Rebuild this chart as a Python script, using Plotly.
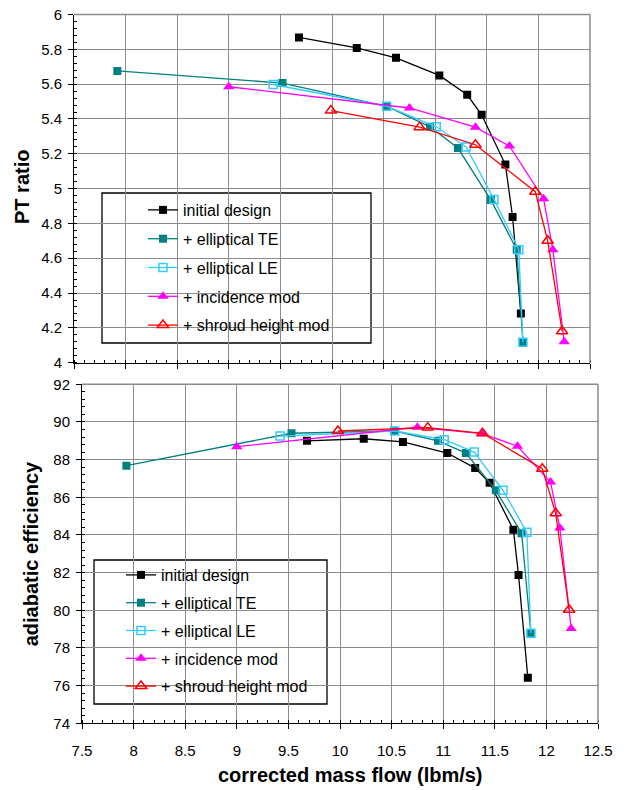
import plotly.graph_objects as go

# page body has an 8px margin, so the figure is sized to fit inside the window
OFF = 8
W, H = 626 - OFF, 790 - OFF

# ---------------- data ----------------
series_names = ["initial design", "+ elliptical TE", "+ elliptical LE",
                "+ incidence mod", "+ shroud height mod"]

# PT ratio (top)
init_flow_pt = [9.68, 10.24, 10.62, 11.04, 11.31, 11.45, 11.68, 11.75, 11.83]
init_pt = [5.868, 5.808, 5.751, 5.650, 5.539, 5.424, 5.138, 4.837, 4.282]

te_flow_pt = [7.92, 9.52, 10.53, 10.95, 11.22, 11.54, 11.79, 11.85]
te_pt = [5.676, 5.606, 5.473, 5.355, 5.233, 4.934, 4.649, 4.118]

le_flow_pt = [9.43, 10.53, 11.01, 11.30, 11.57, 11.81, 11.85]
le_pt = [5.598, 5.473, 5.355, 5.239, 4.938, 4.649, 4.118]

inc_flow_pt = [9.00, 10.75, 11.39, 11.72, 12.05, 12.14, 12.25]
inc_pt = [5.585, 5.463, 5.353, 5.244, 4.942, 4.649, 4.120]

shr_flow_pt = [9.99, 10.85, 11.39, 11.97, 12.09, 12.23]
shr_pt = [5.448, 5.353, 5.252, 4.982, 4.700, 4.181]

# adiabatic efficiency (bottom)
init_flow_eff = [9.68, 10.23, 10.61, 11.04, 11.31, 11.45, 11.68, 11.73, 11.82]
init_eff = [89.00, 89.11, 88.94, 88.35, 87.55, 86.77, 84.28, 81.87, 76.42]

te_flow_eff = [7.93, 9.53, 10.53, 10.95, 11.22, 11.51, 11.76, 11.85]
te_eff = [87.68, 89.40, 89.52, 89.00, 88.35, 86.37, 84.09, 78.78]

le_flow_eff = [9.42, 10.53, 11.01, 11.30, 11.58, 11.81, 11.85]
le_eff = [89.25, 89.52, 89.06, 88.40, 86.37, 84.14, 78.78]

inc_flow_eff = [9.00, 10.75, 11.38, 11.72, 12.04, 12.13, 12.24]
inc_eff = [88.69, 89.72, 89.38, 88.71, 86.81, 84.37, 79.04]

shr_flow_eff = [9.98, 10.85, 11.38, 11.96, 12.09, 12.22]
shr_eff = [89.52, 89.70, 89.40, 87.52, 85.15, 80.03]

# ---------------- styles ----------------
colors = ["#000000", "#008080", "#33CCFF", "#FF00FF", "#FF0000"]
symbols = ["square", "square", "square-open", "triangle-up", "triangle-up-open"]
sizes = [8, 8, 8, 10, 10]

FONT = "Arial, 'Liberation Sans', sans-serif"
GRID = "#8c8c8c"

top_sets = [(init_flow_pt, init_pt), (te_flow_pt, te_pt), (le_flow_pt, le_pt),
            (inc_flow_pt, inc_pt), (shr_flow_pt, shr_pt)]
bot_sets = [(init_flow_eff, init_eff), (te_flow_eff, te_eff), (le_flow_eff, le_eff),
            (inc_flow_eff, inc_eff), (shr_flow_eff, shr_eff)]

fig = go.Figure()
for i, (xs, ys) in enumerate(top_sets):
    fig.add_trace(go.Scatter(
        x=xs, y=ys, mode="lines+markers", name=series_names[i],
        xaxis="x", yaxis="y", legend="legend", legendgroup="t%d" % i,
        line=dict(color=colors[i], width=1.3),
        marker=dict(symbol=symbols[i], size=sizes[i], color=colors[i],
                    line=dict(color=colors[i], width=1.5 if "open" in symbols[i] else 0)),
    ))
for i, (xs, ys) in enumerate(bot_sets):
    fig.add_trace(go.Scatter(
        x=xs, y=ys, mode="lines+markers", name=series_names[i],
        xaxis="x2", yaxis="y2", legend="legend2", legendgroup="b%d" % i,
        line=dict(color=colors[i], width=1.3),
        marker=dict(symbol=symbols[i], size=sizes[i], color=colors[i],
                    line=dict(color=colors[i], width=1.5 if "open" in symbols[i] else 0)),
    ))

def px(x):
    return (x - OFF) / W

def py(y):
    return 1 - (y - OFF) / H

# plot areas in window pixels
T_L, T_R, T_T, T_B = 74, 590, 14.5, 362.7
B_L, B_R, B_T, B_B = 82, 598, 384.3, 723.3

axis_common = dict(
    showline=True, linecolor="black", linewidth=1,
    showgrid=True, gridcolor=GRID, gridwidth=1,
    ticks="outside", ticklen=5, tickcolor="black", tickwidth=1,
    zeroline=False, fixedrange=True, automargin=False,
    ticklabeloverflow="allow",
    tickfont=dict(family=FONT, size=15, color="black"),
)

fig.update_layout(
    width=W, height=H,
    margin=dict(l=0, r=0, t=0, b=0),
    paper_bgcolor="white", plot_bgcolor="white",
    font=dict(family=FONT, color="black"),
    xaxis=dict(domain=[px(T_L), px(T_R)], range=[7.5, 12.5], anchor="y",
               dtick=0.5, tick0=7.5, showticklabels=False,
               minor=dict(ticks="inside", ticklen=3, dtick=0.1, tickcolor="black", showgrid=False),
               **axis_common),
    yaxis=dict(domain=[py(T_B), py(T_T)], range=[4, 6], anchor="x",
               dtick=0.2, tick0=4, ticklabelstandoff=3,
               minor=dict(ticks="inside", ticklen=3, dtick=0.04, tickcolor="black", showgrid=False),
               **axis_common),
    xaxis2=dict(domain=[px(B_L), px(B_R)], range=[7.5, 12.5], anchor="y2",
                dtick=0.5, tick0=7.5, ticklabelstandoff=9,
                minor=dict(ticks="inside", ticklen=3, dtick=0.1, tickcolor="black", showgrid=False),
                **axis_common),
    yaxis2=dict(domain=[py(B_B), py(B_T)], range=[74, 92], anchor="x2",
                dtick=2, tick0=74, ticklabelstandoff=3,
                minor=dict(ticks="inside", ticklen=3, dtick=0.4, tickcolor="black", showgrid=False),
                **axis_common),
    legend=dict(x=px(143), y=py(193), xanchor="left", yanchor="top",
                bgcolor="rgba(0,0,0,0)", borderwidth=0,
                font=dict(family=FONT, size=16, color="black"),
                tracegroupgap=5, traceorder="grouped"),
    legend2=dict(x=px(121), y=py(558), xanchor="left", yanchor="top",
                 bgcolor="rgba(0,0,0,0)", borderwidth=0,
                 font=dict(family=FONT, size=16, color="black"),
                 tracegroupgap=4, traceorder="grouped"),
    showlegend=True,
)

shapes = []
# gray top/right frames
for (l, r, t, b) in [(T_L, T_R, T_T, T_B), (B_L, B_R, B_T, B_B)]:
    shapes.append(dict(type="line", xref="paper", yref="paper",
                       x0=px(l), x1=px(r), y0=py(t), y1=py(t),
                       line=dict(color=GRID, width=1.5)))
    shapes.append(dict(type="line", xref="paper", yref="paper",
                       x0=px(r), x1=px(r), y0=py(t), y1=py(b),
                       line=dict(color=GRID, width=1.5)))
# legend boxes
shapes.append(dict(type="rect", xref="paper", yref="paper", layer="below",
                   x0=px(102), x1=px(371), y0=py(343), y1=py(193),
                   fillcolor="white", line=dict(color="black", width=1.3)))
shapes.append(dict(type="rect", xref="paper", yref="paper", layer="below",
                   x0=px(94), x1=px(327), y0=py(704), y1=py(560),
                   fillcolor="white", line=dict(color="black", width=1.3)))
fig.update_layout(shapes=shapes)

fig.add_annotation(text="<b>PT ratio</b>", xref="paper", yref="paper",
                   x=px(22.5), y=py(187.5), showarrow=False, textangle=-90,
                   font=dict(family=FONT, size=20, color="black"),
                   xanchor="center", yanchor="middle")
fig.add_annotation(text="<b>adiabatic efficiency</b>", xref="paper", yref="paper",
                   x=px(30.5), y=py(553.8), showarrow=False, textangle=-90,
                   font=dict(family=FONT, size=20, color="black"),
                   xanchor="center", yanchor="middle")
fig.add_annotation(text="<b>corrected mass flow (lbm/s)</b>", xref="paper", yref="paper",
                   x=px(350), y=py(775), showarrow=False,
                   font=dict(family=FONT, size=20, color="black"),
                   xanchor="center", yanchor="middle")

fig.write_html("out.html")
